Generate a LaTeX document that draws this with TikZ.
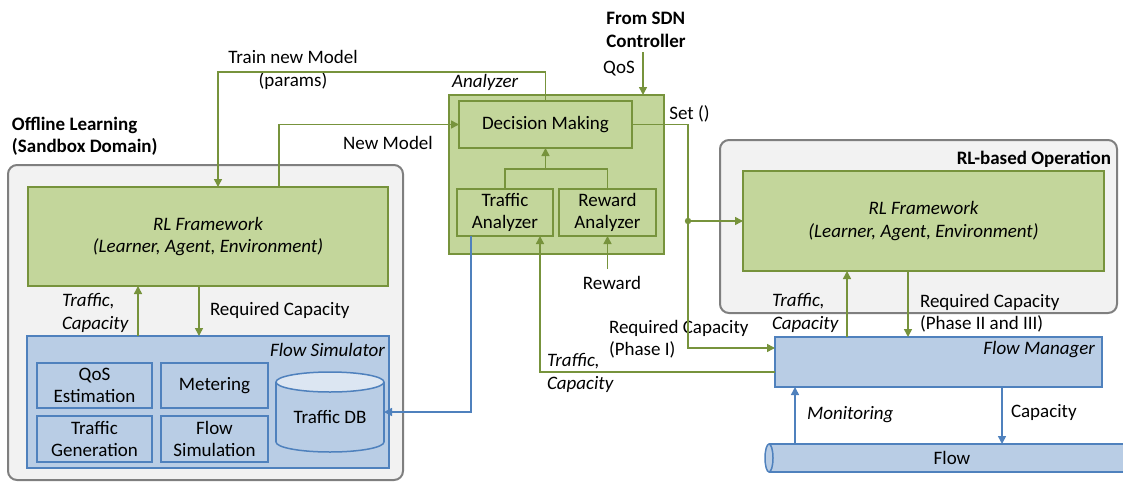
\documentclass[tikz,border=0pt]{standalone}
\usepackage{fontspec}
\setmainfont{Carlito}
\usetikzlibrary{arrows.meta}
\definecolor{gfill}{HTML}{C3D69B}
\definecolor{gline}{HTML}{77933C}
\definecolor{bfill}{HTML}{B9CDE5}
\definecolor{bline}{HTML}{4F81BD}
\definecolor{grayfill}{HTML}{F2F2F2}
\definecolor{grayline}{HTML}{7F7F7F}
\definecolor{dbtop}{HTML}{DCE6F2}
\tikzset{
  every node/.style={font=\fontsize{19}{22.5}\selectfont},
  base/.style={inner sep=0, outer sep=0},
  outerbox/.style={base, draw=grayline, fill=grayfill, line width=2, rounded corners=9},
  gbox/.style={base, draw=gline, fill=gfill, line width=1.5, align=center},
  bbox/.style={base, draw=bline, fill=bfill, line width=1.5, align=center},
  txt/.style={inner sep=0, outer sep=0},
  garrow/.style={draw=gline, line width=1.5, -{Triangle[length=8,width=8]}},
  gpath/.style={draw=gline, line width=1.5},
  barrow/.style={draw=bline, line width=1.5, -{Triangle[length=8,width=8]}},
}
\begin{document}
\begin{tikzpicture}[x=1pt,y=-1pt]
\useasboundingbox (0,0) rectangle (1123,482);
% outer containers
\node[outerbox, minimum width=395, minimum height=315] (outL) at (205.5,322.5) {};
\node[outerbox, minimum width=397, minimum height=173] (outR) at (918.5,226.5) {};
\node[txt, anchor=west, align=left, font=\fontsize{19}{22.5}\selectfont\bfseries] (offl) at (12,136.5) {Offline Learning\\(Sandbox Domain)};
\node[txt, anchor=east, font=\fontsize{19}{22.5}\selectfont\bfseries] (rlop) at (1111,159) {RL-based Operation};
% left side
\node[gbox, minimum width=360, minimum height=99, font=\fontsize{19}{22.5}\selectfont\itshape] (lrl) at (208,236.5) {RL Framework\\(Learner, Agent, Environment)};
\node[bbox, minimum width=362, minimum height=132] (fs) at (208,402) {};
\node[txt, anchor=east, font=\fontsize{19}{22.5}\selectfont\itshape] (fslbl) at (385,350) {Flow Simulator};
\node[bbox, minimum width=115, minimum height=45] (qos) at (94.5,385.5) {QoS\\Estimation};
\node[bbox, minimum width=107, minimum height=45] (met) at (214.5,385.5) {Metering};
\node[bbox, minimum width=115, minimum height=46] (tg) at (94.5,439) {Traffic\\Generation};
\node[bbox, minimum width=107, minimum height=46] (fsim) at (214.5,439) {Flow\\Simulation};
% Traffic DB cylinder
\node[base, minimum width=108, minimum height=80] (db) at (330,412) {};
\filldraw[fill=bfill, draw=bline, line width=1.5] (330,442) ellipse [x radius=54, y radius=10];
\fill[bfill] (276,382) rectangle (384,442);
\draw[bline, line width=1.5] (276,382) -- (276,442) (384,382) -- (384,442);
\filldraw[fill=dbtop, draw=bline, line width=1.5] (330,382) ellipse [x radius=54, y radius=10];
\node[txt] (dbl) at (330,417) {Traffic DB};
% analyzer
\node[gbox, minimum width=215, minimum height=159] (an) at (556.5,174.5) {};
\node[txt, anchor=west, font=\fontsize{19}{22.5}\selectfont\itshape] (anl) at (452,82) {Analyzer};
\node[gbox, minimum width=173, minimum height=47] (dm) at (545.5,124.5) {Decision Making};
\node[gbox, minimum width=96, minimum height=47] (ta) at (505,212.5) {Traffic\\Analyzer};
\node[gbox, minimum width=97, minimum height=47] (ra) at (607.5,212.5) {Reward\\Analyzer};
% right side
\node[gbox, minimum width=361, minimum height=100, font=\fontsize{19}{22.5}\selectfont\itshape] (rrl) at (923.5,221) {RL Framework\\(Learner, Agent, Environment)};
\node[bbox, minimum width=327, minimum height=50] (fm) at (938.5,362) {};
\node[txt, anchor=east, font=\fontsize{19}{22.5}\selectfont\itshape] (fml) at (1095,350) {Flow Manager};
% flow tube
\node[base, minimum width=365, minimum height=28] (flow) at (947.5,458) {};
\fill[bfill] (769,444) rectangle (1126,472);
\draw[bline, line width=1.5] (769,444) -- (1126,444) (769,472) -- (1126,472);
\filldraw[fill=bfill, draw=bline, line width=1.5] (769,458) ellipse [x radius=4, y radius=14];
\node[txt] (flowl) at (952,458) {Flow};
% labels
\node[txt, align=center] (tnm) at (293,70) {Train new Model\\(params)};
\node[txt] (nml) at (388,143) {New Model};
\node[txt, align=left, font=\fontsize{19}{22.5}\selectfont\bfseries] (sdn) at (646,30) {From SDN\\Controller};
\node[txt] (qosl) at (619,69) {QoS};
\node[txt] (setl) at (689.5,114) {Set ()};
\node[txt] (rwl) at (612,283) {Reward};
\node[txt, anchor=west, align=left, font=\fontsize{19}{22.5}\selectfont\itshape] (tcl1) at (62,313) {Traffic,\\Capacity};
\node[txt, anchor=west] (rcl1) at (210,310) {Required Capacity};
\node[txt, anchor=west, align=left] (rcp1) at (609,339) {Required Capacity\\(Phase I)};
\node[txt, anchor=west, align=left, font=\fontsize{19}{22.5}\selectfont\itshape] (tcl2) at (547,373) {Traffic,\\Capacity};
\node[txt, anchor=west, align=left, font=\fontsize{19}{22.5}\selectfont\itshape] (tcl3) at (772,313) {Traffic,\\Capacity};
\node[txt, anchor=west, align=left] (rcp2) at (920,313) {Required Capacity\\(Phase II and III)};
\node[txt, anchor=west, font=\fontsize{19}{22.5}\selectfont\itshape] (monl) at (807,415) {Monitoring};
\node[txt, anchor=west] (capl) at (1011,412) {Capacity};
% helper coordinates
\coordinate (tn) at (218,72);
\coordinate (nm) at (279,124);
\coordinate (qc) at (643,52);
\coordinate (jn) at (545.5,169);
\coordinate (y269) at (0,269);
\coordinate (sj) at (688,221);
\coordinate (p348) at (0,348);
\coordinate (tc) at (540,372);
\coordinate (bd) at (471,412);
\coordinate (x138) at (138,0);
\coordinate (x199) at (199,0);
\coordinate (x847) at (847,0);
\coordinate (x908) at (908,0);
\coordinate (x795) at (795,0);
\coordinate (x1002) at (1002,0);
% connectors
\draw[garrow] (dm.north) |- (tn) -- (tn |- lrl.north);
\draw[garrow] (nm |- lrl.north) |- (dm.west);
\draw[garrow] (qc) -- (qc |- an.north);
\draw[gpath] (ta.north) |- (jn) -| (ra.north);
\draw[garrow] (jn) -- (dm.south);
\draw[garrow] (ra.south |- y269) -- (ra.south);
\draw[garrow] (dm.east) -| (sj) |- (fm.west |- p348);
\fill[color=gline] (sj) circle (3.2);
\draw[garrow] (sj) -- (rrl.west |- sj);
\draw[garrow] (fm.west |- tc) -- (tc) -- (tc |- ta.south);
\draw[barrow] (bd |- ta.south) -- (bd) -- (db.east |- bd);
\draw[garrow] (fs.north -| x138) -- (lrl.south -| x138);
\draw[garrow] (lrl.south -| x199) -- (fs.north -| x199);
\draw[garrow] (fm.north -| x847) -- (rrl.south -| x847);
\draw[garrow] (rrl.south -| x908) -- (fm.north -| x908);
\draw[barrow] (flow.north -| x795) -- (fm.south -| x795);
\draw[barrow] (fm.south -| x1002) -- (flow.north -| x1002);
\end{tikzpicture}
\end{document}
